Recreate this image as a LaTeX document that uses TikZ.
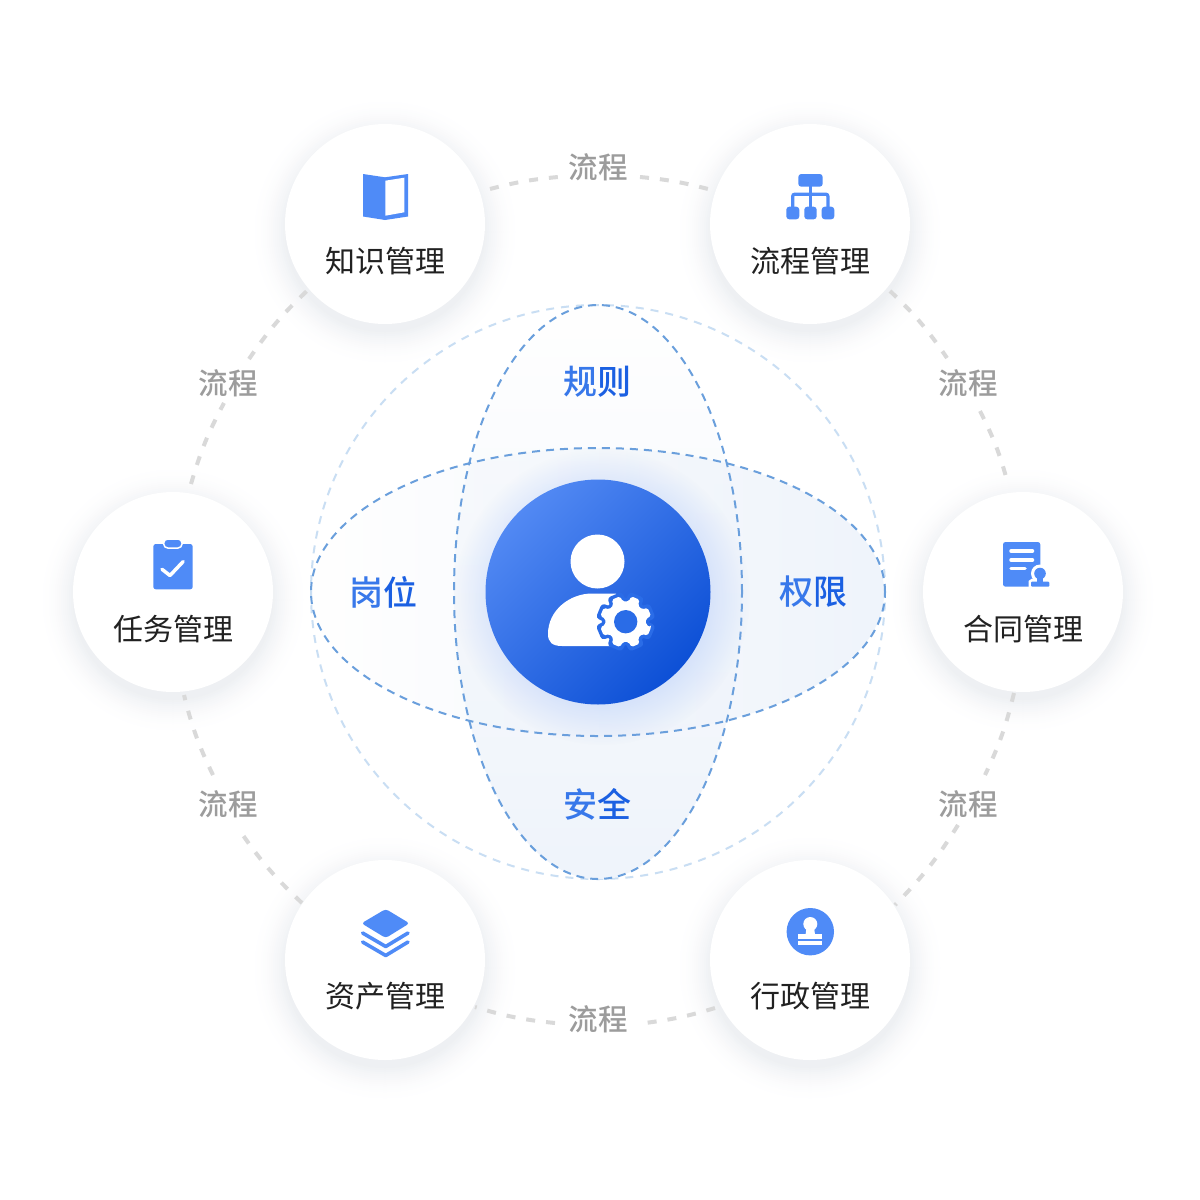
\documentclass[tikz,border=0pt]{standalone}
\usepackage{fontspec}
\usetikzlibrary{fadings,shapes.geometric}
\setmainfont{Noto Sans CJK SC}
\newfontfamily\cjkmed{Noto Sans CJK SC Medium}
\definecolor{iconblue}{HTML}{4F8BF7}
\definecolor{flowgray}{HTML}{D9D9D9}
\definecolor{labelgray}{HTML}{9C9C9C}
\definecolor{ringblue}{HTML}{C9DEF3}
\definecolor{lensblue}{HTML}{6A9FDC}
\definecolor{lensfill}{HTML}{EFF4FB}
\definecolor{bluea}{HTML}{3878EA}
\definecolor{blueb}{HTML}{1B60E2}
\definecolor{knock}{HTML}{2A6CE7}
\definecolor{glowc}{HTML}{8FB2F8}
\definecolor{huba}{HTML}{5289F3}
\definecolor{hubb}{HTML}{0D50D6}
\definecolor{shadowc}{HTML}{EEF0F3}
\tikzfading[name=fadeh,left color=transparent!100,right color=transparent!0]
\tikzfading[name=fadev,top color=transparent!100,bottom color=transparent!0]
\tikzfading[name=glowfade,inner color=transparent!0,outer color=transparent!100]
\tikzset{
  card/.style={circle,fill=white,minimum size=200pt,inner sep=0pt},
  cardtext/.style={font=\fontsize{30pt}{30pt}\selectfont,text=black!87,inner sep=0pt},
  flowlabel/.style={font=\cjkmed\fontsize{29.5pt}{29.5pt}\selectfont,text=labelgray,inner sep=0pt},
  axislabel/.style={font=\cjkmed\fontsize{34pt}{34pt}\selectfont,inner sep=0pt},
  flow/.style={draw=flowgray,line width=4pt,dash pattern=on 9pt off 11pt},
  ringline/.style={draw=ringblue,line width=2pt,dash pattern=on 8pt off 7pt},
  lensline/.style={draw=lensblue,line width=2pt,dash pattern=on 8pt off 6pt},
  iconfill/.style={fill=iconblue,draw=none}
}
\begin{document}
\begin{tikzpicture}[x=1pt,y=-1pt]
\useasboundingbox (0,0) rectangle (1200,1200);
\fill[white] (0,0) rectangle (1200,1200);
% shadows: concentric soft discs, offset downwards
\foreach \cx/\cy in {385/224,810/224,173/592,1023/592,385/960,810/960}{
  \foreach \r in {136,134,...,100}{
    \pgfmathsetmacro{\p}{100*((136-\r)/36)^2}
    \fill[shadowc!\p!white] (\cx,\cy+8) circle[radius=\r pt];
  }
}
% nodes
\node[card] (kn) at (385,224) {};
\node[card] (pr) at (810,224) {};
\node[card] (ta) at (173,592) {};
\node[card] (co) at (1023,592) {};
\node[card] (as) at (385,960) {};
\node[card] (ad) at (810,960) {};
\node[flowlabel] (lt) at (598,167) {流程};
\node[flowlabel] (lb) at (598,1019) {流程};
\node[flowlabel] (lul) at (228,383) {流程};
\node[flowlabel] (lur) at (968,383) {流程};
\node[flowlabel] (lll) at (228,804) {流程};
\node[flowlabel] (llr) at (968,804) {流程};
% connectors, clockwise
\draw[flow] ([shift={(105,-35)}]kn.center) to[bend left=4.7] ([shift={(-40,10)}]lt.center);
\draw[flow] ([shift={(42,10)}]lt.center) to[bend left=4.7] ([shift={(-102,-35)}]pr.center);
\draw[flow] ([shift={(80,67)}]pr.center) to[bend left=6.2] ([shift={(-21,-25)}]lur.center);
\draw[flow] ([shift={(12,28)}]lur.center) to[bend left=5.9] ([shift={(-15,-108)}]co.center);
\draw[flow] ([shift={(-9,101)}]co.center) to[bend left=5.9] ([shift={(17,-29)}]llr.center);
\draw[flow] ([shift={(-10,21)}]llr.center) to[bend left=6.2] ([shift={(85,-55)}]ad.center);
\draw[flow] ([shift={(-95,48)}]ad.center) to[bend left=4.7] ([shift={(47,4)}]lb.center);
\draw[flow] ([shift={(-43,4)}]lb.center) to[bend left=5.5] ([shift={(90,47)}]as.center);
\draw[flow] ([shift={(-83,-57)}]as.center) to[bend left=6.2] ([shift={(10,24)}]lll.center);
\draw[flow] ([shift={(-15,-29)}]lll.center) to[bend left=5.9] ([shift={(11,103)}]ta.center);
\draw[flow] ([shift={(18,-108)}]ta.center) to[bend left=5.9] ([shift={(-4,20)}]lul.center);
\draw[flow] ([shift={(21,-24)}]lul.center) to[bend left=6.2] ([shift={(-76,65)}]kn.center);
% large ring and lenses
\draw[ringline] (598,592) circle[radius=287pt];
\fill[lensfill,path fading=fadev] (598,592) ellipse[x radius=144pt,y radius=287pt];
\fill[lensfill,path fading=fadeh] (598,592) ellipse[x radius=287pt,y radius=144pt];
\draw[lensline] (598,592) ellipse[x radius=144pt,y radius=287pt];
\draw[lensline] (598,592) ellipse[x radius=287pt,y radius=144pt];
% glow and hub
\fill[glowc,path fading=glowfade,fill opacity=.95] (602,597) circle[radius=148pt];
\node[circle,minimum size=225pt,inner sep=0pt,shade,top color=huba,bottom color=hubb,shading angle=45] (hub) at (598,592) {};
% person
\fill[white] (597.5,561.5) circle[radius=27pt];
\fill[white] (548,634) .. controls (548,610) and (570,593.5) .. (592,593.5) -- (616,593.5) -- (616,646) -- (562,646)
  .. controls (552,646) and (548,642) .. (548,634) -- cycle;
\begin{scope}[shift={(625.7,621.7)}]
\draw[knock,fill=knock,line width=7pt,line join=round] (22.5-10:26) \foreach \k in {0,...,7}{ -- (22.5+45*\k-10:26) -- (22.5+45*\k+10:26) -- (22.5+45*\k+14:20.5) -- (22.5+45*\k+31:20.5)} -- cycle;
\fill[white,rounded corners=1.8pt] (22.5-10:26) \foreach \k in {0,...,7}{ -- (22.5+45*\k-10:26) -- (22.5+45*\k+10:26) -- (22.5+45*\k+14:20.5) -- (22.5+45*\k+31:20.5)} -- cycle;
\fill[knock] (0,0) circle[radius=11.7pt];
\end{scope}
% card texts
\node[cardtext] (knt) at (385.5,261) {知识管理};
\node[cardtext] (prt) at (810.5,261) {流程管理};
\node[cardtext] (tat) at (173,629) {任务管理};
\node[cardtext] (cot) at (1023,629) {合同管理};
\node[cardtext] (ast) at (385.5,996) {资产管理};
\node[cardtext] (adt) at (810.5,996) {行政管理};
% axis labels
\node[axislabel] (gz) at (597.5,382) {\textcolor{bluea}{规}\textcolor{blueb}{则}};
\node[axislabel] (gw) at (383,592) {\textcolor{bluea}{岗}\textcolor{blueb}{位}};
\node[axislabel] (qx) at (813,592) {\textcolor{bluea}{权}\textcolor{blueb}{限}};
\node[axislabel] (aq) at (597.5,804) {\textcolor{bluea}{安}\textcolor{blueb}{全}};
% book icon
\fill[iconfill] (363,174) -- (385,177.3) -- (408,174) -- (408,216.5) -- (385,220) -- (363,216.5) -- cycle;
\fill[white] (385.3,180.7) -- (404.3,177.7) -- (404.3,212.3) -- (385.3,215.7) -- cycle;
% org chart icon
\fill[iconfill,rounded corners=3pt] (798.3,174) rectangle (822.7,186.7);
\fill[iconfill,rounded corners=3pt] (786.3,206.7) rectangle (799.3,219.3);
\fill[iconfill,rounded corners=3pt] (804.3,206.7) rectangle (816.7,219.3);
\fill[iconfill,rounded corners=3pt] (821.7,206.7) rectangle (834.3,219.3);
\draw[iconblue,line width=3.2pt] (810.4,186) -- (810.4,207);
\draw[iconblue,line width=3.2pt,rounded corners=2pt] (792.7,207) -- (792.7,194.2) -- (827.9,194.2) -- (827.9,207);
% clipboard icon
\fill[iconfill,rounded corners=2.5pt] (153.3,544) rectangle (192.7,589.3);
\fill[iconfill,draw=white,line width=1.5pt,rounded corners=4pt] (163.7,539) rectangle (182,548);
\draw[white,line width=3.5pt,line cap=round,line join=round] (162,569.3) -- (170,575.5) -- (183.2,561.5);
% contract icon
\fill[iconfill,rounded corners=2.5pt] (1003,542) rectangle (1040.3,586.7);
\draw[white,line width=3.5pt,line cap=round] (1011,551) -- (1032.5,551) (1011,560) -- (1032.5,560) (1011,568.7) -- (1025,568.7);
\fill[white] (1040,573.5) circle[radius=9pt];
\fill[white] (1028.5,588) -- (1028.5,581) -- (1032,578.5) -- (1049.3,578.5) -- (1049.3,588) -- cycle;
\fill[iconfill] (1040,573.5) circle[radius=5.8pt];
\fill[iconfill] (1037,577) rectangle (1043,583);
\fill[iconfill,rounded corners=1pt] (1031,586.7) -- (1031,581.7) -- (1049.3,581.7) -- (1049.3,586.7) -- cycle;
% layers icon
\fill[iconfill,rounded corners=3pt] (361.5,923.3) -- (385.7,909) -- (409.5,923.3) -- (385.7,938) -- cycle;
\draw[iconblue,line width=3.6pt,line cap=round,line join=round] (362.6,933) -- (385.7,946.5) -- (408,933);
\draw[iconblue,line width=3.6pt,line cap=round,line join=round] (362.6,942) -- (385.7,955.5) -- (408,942);
% stamp icon
\fill[iconblue] (810.3,931.7) circle[radius=23.7pt];
\fill[white] (810.3,924) circle[radius=7pt];
\fill[white] (806.7,926) -- (813.9,926) -- (815,934.5) -- (805.6,934.5) -- cycle;
\fill[white] (798.3,934.3) rectangle (822.3,939.3);
\fill[white] (798.3,941.3) rectangle (822.3,944.7);
\end{tikzpicture}
\end{document}
